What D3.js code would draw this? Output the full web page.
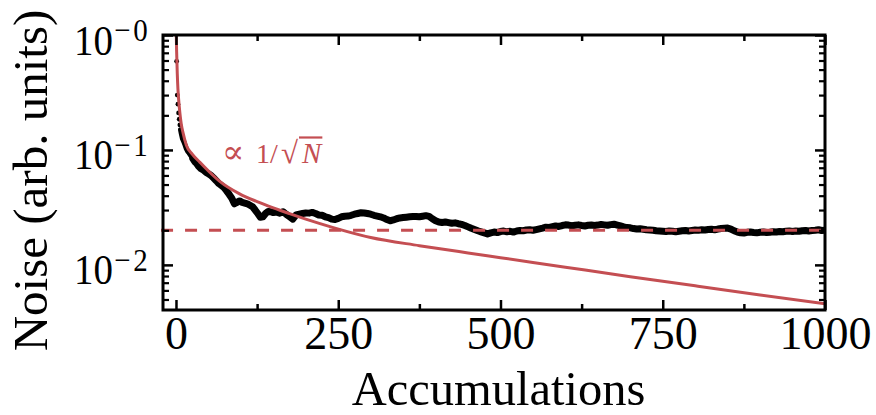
<!DOCTYPE html>
<html>
<head>
<meta charset="utf-8">
<script src="https://cdn.jsdelivr.net/npm/d3@7"></script>
<style>
  body { margin: 0; background: #fff; }
  svg { display: block; }
  text { font-family: "Liberation Serif", "DejaVu Serif", serif; }
</style>
</head>
<body>
<svg id="chart" width="876" height="415"></svg>
<script>
// Measured noise level versus number of accumulated spectra
const accumulations = [
  1, 2, 3, 4, 5, 6, 7, 8, 9, 10, 12, 14, 16, 18, 20, 23, 26, 29, 32, 35, 38, 42, 46, 50,
  54, 58, 62, 66, 70, 74, 78, 82, 86, 90, 94, 98, 102, 106, 110, 114, 118, 122, 126, 130,
  134, 138, 142, 146, 150, 155, 160, 165, 170, 175, 180, 185, 190, 195, 200, 205, 210, 215,
  220, 225, 230, 235, 240, 245, 250, 255, 260, 265, 270, 275, 280, 285, 290, 295, 300, 305,
  310, 315, 320, 325, 330, 335, 340, 345, 350, 355, 360, 365, 370, 375, 380, 385, 390, 395,
  400, 405, 410, 415, 420, 425, 430, 435, 440, 445, 450, 455, 460, 465, 470, 475, 480, 485,
  490, 495, 500, 505, 510, 515, 520, 525, 530, 535, 540, 545, 550, 555, 560, 565, 570, 575,
  580, 585, 590, 595, 600, 605, 610, 615, 620, 625, 630, 635, 640, 645, 650, 655, 660, 665,
  670, 675, 680, 685, 690, 695, 700, 705, 710, 715, 720, 725, 730, 735, 740, 745, 750, 755,
  760, 765, 770, 775, 780, 785, 790, 795, 800, 805, 810, 815, 820, 825, 830, 835, 840, 845,
  850, 855, 860, 865, 870, 875, 880, 885, 890, 895, 900, 905, 910, 915, 920, 925, 930, 935,
  940, 945, 950, 955, 960, 965, 970, 975, 980, 985, 990, 995, 1000
];
const noise = [
  0.59, 0.30, 0.25, 0.21, 0.185, 0.165, 0.150, 0.140, 0.132, 0.125, 0.118, 0.110, 0.102, 0.097,
  0.094, 0.089, 0.084, 0.079, 0.076, 0.072, 0.069, 0.067, 0.064, 0.062,
  0.060, 0.057, 0.054, 0.051, 0.049, 0.047, 0.044, 0.041, 0.038, 0.034, 0.035, 0.036, 0.035, 0.0345,
  0.034, 0.033, 0.032, 0.030, 0.028, 0.026,
  0.0262, 0.028, 0.0292, 0.029, 0.0285, 0.0288, 0.0282, 0.029, 0.0275, 0.0262, 0.0250, 0.0272,
  0.0276, 0.0280, 0.0283, 0.0282, 0.0286, 0.0280,
  0.0272, 0.0270, 0.0262, 0.0258, 0.0250, 0.0248, 0.0254, 0.0262, 0.0265, 0.0266, 0.0270, 0.0276,
  0.0280, 0.0284, 0.0283, 0.0280, 0.0276, 0.0270,
  0.0266, 0.0262, 0.0256, 0.0248, 0.0242, 0.0246, 0.0252, 0.0256, 0.0258, 0.0260, 0.0262, 0.0263,
  0.0264, 0.0262, 0.0265, 0.0268, 0.0264, 0.0252,
  0.0242, 0.0236, 0.0234, 0.0236, 0.0233, 0.0230, 0.0232, 0.0228, 0.0225, 0.0220, 0.0214, 0.0208,
  0.0203, 0.0198, 0.0194, 0.0190, 0.0186, 0.0190,
  0.0193, 0.0191, 0.0195, 0.0197, 0.0194, 0.0196, 0.0193, 0.0197, 0.0199, 0.0198, 0.0201, 0.0202,
  0.0200, 0.0203, 0.0206, 0.0209, 0.0213, 0.0212,
  0.0215, 0.0218, 0.0216, 0.0220, 0.0223, 0.0222, 0.0219, 0.0221, 0.0223, 0.0220, 0.0218, 0.0221,
  0.0222, 0.0220, 0.0222, 0.0225, 0.0223, 0.0221,
  0.0224, 0.0226, 0.0222, 0.0218, 0.0214, 0.0211, 0.0210, 0.0207, 0.0205, 0.0206, 0.0204, 0.0202,
  0.0201, 0.0200, 0.0198, 0.0197, 0.0196, 0.0195,
  0.0197, 0.0196, 0.0194, 0.0196, 0.0198, 0.0199, 0.0197, 0.0199, 0.0201, 0.0200, 0.0202, 0.0201,
  0.0203, 0.0204, 0.0202, 0.0205, 0.0207, 0.0208,
  0.0209, 0.0205, 0.0198, 0.0193, 0.0190, 0.0189, 0.0192, 0.0193, 0.0191, 0.0190, 0.0192, 0.0193,
  0.0191, 0.0192, 0.0194, 0.0193, 0.0195, 0.0194,
  0.0196, 0.0197, 0.0195, 0.0197, 0.0196, 0.0198, 0.0199, 0.0197, 0.0199, 0.0200, 0.0202, 0.0199, 0.0200
];

// Shot-noise guide curve (proportional to 1/sqrt(N))
const guideN = [0.3, 1, 2, 3, 4, 6, 8, 11, 16, 25, 37, 52, 68, 98, 125, 150, 175, 200, 245,
  300, 375, 450, 500, 600, 700, 800, 900, 1000];
const guideNoise = [1.1, 0.72, 0.46, 0.34, 0.28, 0.21, 0.17, 0.14, 0.110, 0.092, 0.078, 0.0640,
  0.0530, 0.0415, 0.0355, 0.0313, 0.0279, 0.0250, 0.0209, 0.0173, 0.0147, 0.0127, 0.01155,
  0.00955, 0.0079, 0.00657, 0.00548, 0.0046];

// Noise floor
const floorLevel = 0.02;

// Axis ticks
const xMajor = [0, 250, 500, 750, 1000];
const xMinor = [125, 375, 625, 875];
const yMajor = [1, 0.1, 0.01];
const yExponent = ["\u22120", "\u22121", "\u22122"];
const yMinor = [0.005, 0.006, 0.007, 0.008, 0.009,
  0.02, 0.03, 0.04, 0.05, 0.06, 0.07, 0.08, 0.09,
  0.2, 0.3, 0.4, 0.5, 0.6, 0.7, 0.8, 0.9];

const red = "#c44e52";
const L = 163, R = 825, T = 35, B = 310;

const svg = d3.select("#chart");
const x = d3.scaleLinear().domain([-20, 1000]).range([L, R]);
const y = d3.scaleLog().domain([0.00405, 1]).range([B, T]);

svg.append("defs").append("clipPath").attr("id", "plot-clip")
  .append("rect").attr("x", L).attr("y", T).attr("width", R - L).attr("height", B - T);

const plot = svg.append("g").attr("clip-path", "url(#plot-clip)");

const pts = accumulations.map((n, i) => [n, noise[i]]);
const line = d3.line().x(d => x(d[0])).y(d => y(d[1]));

// measured noise: individual early points, then a dense band
plot.append("path")
  .datum(pts.filter(d => d[0] >= 7 && d[0] <= 30))
  .attr("d", line)
  .attr("fill", "none")
  .attr("stroke", "#000")
  .attr("stroke-width", 5)
  .attr("stroke-linejoin", "round")
  .attr("stroke-linecap", "round");
plot.append("path")
  .datum(pts.filter(d => d[0] >= 26))
  .attr("d", line)
  .attr("fill", "none")
  .attr("stroke", "#000")
  .attr("stroke-width", 7)
  .attr("stroke-linejoin", "round")
  .attr("stroke-linecap", "round");

plot.selectAll("circle.early")
  .data(pts.filter(d => d[0] < 7))
  .join("circle")
  .attr("class", "early")
  .attr("cx", d => x(d[0]))
  .attr("cy", d => y(d[1]))
  .attr("r", 2.4)
  .attr("fill", "#000");

// 1/sqrt(N) guide
plot.append("path")
  .datum(guideN.map((n, i) => [n, guideNoise[i]]))
  .attr("d", line.curve(d3.curveMonotoneX))
  .attr("fill", "none")
  .attr("stroke", red)
  .attr("stroke-width", 3);

// noise floor
svg.append("path")
  .datum([[-23, floorLevel], [1000, floorLevel]])
  .attr("d", d3.line().x(d => x(d[0])).y(d => y(d[1])))
  .attr("fill", "none")
  .attr("stroke", red)
  .attr("stroke-width", 3)
  .attr("stroke-dasharray", "12,12");

// ticks on all four sides, pointing inward
function styleTicks(g, w) {
  g.select(".domain").remove();
  g.selectAll(".tick line").attr("stroke", "#000").attr("stroke-width", w);
}

svg.append("g").attr("transform", `translate(0,${B})`)
  .call(d3.axisBottom(x).tickValues(xMinor).tickSize(-6).tickFormat(""))
  .call(g => styleTicks(g, 2.5));
svg.append("g").attr("transform", `translate(0,${T})`)
  .call(d3.axisTop(x).tickValues(xMinor).tickSize(-6).tickFormat(""))
  .call(g => styleTicks(g, 2.5));
svg.append("g").attr("transform", `translate(0,${T})`)
  .call(d3.axisTop(x).tickValues(xMajor).tickSize(-10).tickFormat(""))
  .call(g => styleTicks(g, 2.5));

const xAxis = svg.append("g").attr("transform", `translate(0,${B})`)
  .call(d3.axisBottom(x).tickValues(xMajor).tickSize(-10).tickFormat(d3.format("d")))
  .call(g => styleTicks(g, 2.5));
xAxis.selectAll(".tick text")
  .attr("y", 39)
  .attr("dy", null)
  .attr("fill", "#000")
  .style("font-family", "'Liberation Serif', serif")
  .style("font-size", "46px");

svg.append("g").attr("transform", `translate(${L},0)`)
  .call(d3.axisLeft(y).tickValues(yMinor).tickSize(-6).tickFormat(""))
  .call(g => styleTicks(g, 2.2));
svg.append("g").attr("transform", `translate(${R},0)`)
  .call(d3.axisRight(y).tickValues(yMinor).tickSize(-6).tickFormat(""))
  .call(g => styleTicks(g, 2.2));
svg.append("g").attr("transform", `translate(${R},0)`)
  .call(d3.axisRight(y).tickValues(yMajor).tickSize(-10).tickFormat(""))
  .call(g => styleTicks(g, 2.5));

const yAxis = svg.append("g").attr("transform", `translate(${L},0)`)
  .call(d3.axisLeft(y).tickValues(yMajor).tickSize(-10).tickFormat(""))
  .call(g => styleTicks(g, 2.5));
// decade labels 10^-k, slightly tall serif digits with a raised exponent
yAxis.selectAll(".tick").each(function(d, i) {
  const tick = d3.select(this);
  tick.select("text").remove();
  const t = tick.append("text")
    .attr("transform", "translate(-89,19) scale(1,1.1)")
    .attr("x", 0).attr("y", 0)
    .attr("text-anchor", "start")
    .attr("fill", "#000");
  t.append("tspan").style("font-size", "39px").text("10");
  t.append("tspan")
    .attr("dx", 1).attr("dy", -12)
    .style("font-size", "29px")
    .style("letter-spacing", "3px")
    .text(yExponent[i]);
});

// frame
svg.append("rect")
  .attr("x", L).attr("y", T)
  .attr("width", R - L).attr("height", B - T)
  .attr("fill", "none")
  .attr("stroke", "#000")
  .attr("stroke-width", 3);

// axis titles
svg.append("text")
  .attr("x", (x(0) + x(1000)) / 2 - 2)
  .attr("y", 405)
  .attr("text-anchor", "middle")
  .style("font-size", "48.5px")
  .text("Accumulations");

svg.append("text")
  .attr("transform", `translate(47,${(T + B) / 2 + 8}) rotate(-90)`)
  .attr("text-anchor", "middle")
  .style("font-size", "49px")
  .text("Noise (arb. units)");

// guide label: ∝ 1/√N̄
const lab = svg.append("g").attr("fill", red);
lab.append("text").attr("x", 222).attr("y", 163).style("font-size", "33px").text("\u221D");
lab.append("text").attr("x", 256).attr("y", 163).style("font-size", "28px").text("1/");
lab.append("text").attr("x", 281).attr("y", 163).style("font-size", "31px").text("\u221A");
const labN = lab.append("text")
  .attr("x", 302).attr("y", 163)
  .style("font-size", "29px")
  .style("font-style", "italic")
  .text("N");
const wN = labN.node().getComputedTextLength();
lab.append("line")
  .attr("x1", 299).attr("x2", 302 + wN + 1)
  .attr("y1", 137.5).attr("y2", 137.5)
  .attr("stroke", red).attr("stroke-width", 2.2);
</script>
</body>
</html>
